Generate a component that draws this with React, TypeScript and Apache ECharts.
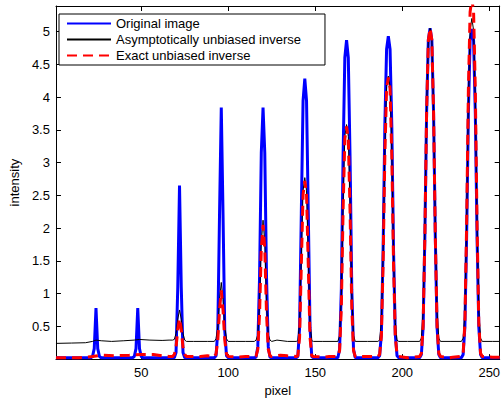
import React, { useEffect, useRef } from "react";
import * as echarts from "echarts";

const xRange = [1, 256];
const yRange = [0, 5.39];
const xTicks = [50, 100, 150, 200, 250];
const yTicks = [0.5, 1, 1.5, 2, 2.5, 3, 3.5, 4, 4.5, 5];

const seriesNames = [
  "Original image",
  "Asymptotically unbiased inverse",
  "Exact unbiased inverse",
];

// Original image: baseline points and peak windows (center, samples centered on it)
const blueBaseline: [number, number][] = [
  [1, 0.02],
  [256, 0.02],
];
const bluePeaks: [number, number[]][] = [
  [24, [0.02, 0.04, 0.16, 0.78, 0.16, 0.04, 0.02]],
  [48, [0.02, 0.04, 0.16, 0.78, 0.16, 0.04, 0.02]],
  [72, [0.02, 0.1, 1.1, 2.65, 1.1, 0.1, 0.02]],
  [96, [0.02, 0.05, 0.44, 2.22, 3.84, 2.22, 0.44, 0.05, 0.02]],
  [120, [0.02, 0.03, 0.19, 1.25, 3.15, 3.84, 3.15, 1.25, 0.19, 0.03, 0.02]],
  [144, [0.02, 0.04, 0.48, 2.23, 3.94, 4.28, 3.94, 2.23, 0.48, 0.04, 0.02]],
  [168, [0.02, 0.15, 1.06, 3.09, 4.6, 4.87, 4.6, 3.09, 1.06, 0.15, 0.02]],
  [192, [0.02, 0.05, 0.38, 1.65, 3.56, 4.73, 4.93, 4.73, 3.56, 1.65, 0.38, 0.05, 0.02]],
  [216, [0.02, 0.07, 0.49, 1.87, 3.76, 4.87, 5.05, 4.87, 3.76, 1.87, 0.49, 0.07, 0.02]],
  [240, [0.02, 0.07, 0.49, 1.87, 3.75, 4.86, 5.04, 4.86, 3.75, 1.87, 0.49, 0.07, 0.02]],
];

// Asymptotically unbiased inverse
const blackBaseline: [number, number][] = [
  [1, 0.24], [10, 0.245], [18, 0.25], [22, 0.27], [24, 0.29], [27, 0.28],
  [33, 0.27], [40, 0.28], [46, 0.29], [49, 0.3], [55, 0.29], [62, 0.285],
  [66, 0.29], [80, 0.27], [88, 0.27], [104, 0.27], [110, 0.27], [128, 0.29],
  [134, 0.27], [154, 0.27], [180, 0.27], [203, 0.27], [228, 0.27],
  [252, 0.27], [256, 0.27],
];
const blackPeaks: [number, number[]][] = [
  [72, [0.29, 0.3, 0.39, 0.61, 0.75, 0.61, 0.39, 0.29, 0.27]],
  [96, [0.27, 0.31, 0.49, 0.91, 1.17, 0.91, 0.49, 0.31, 0.27]],
  [120, [0.27, 0.29, 0.37, 0.86, 1.78, 2.12, 1.78, 0.86, 0.37, 0.29, 0.27]],
  [144, [0.27, 0.28, 0.54, 1.57, 2.57, 2.77, 2.57, 1.57, 0.54, 0.28, 0.27]],
  [168, [0.27, 0.36, 0.98, 2.37, 3.4, 3.58, 3.4, 2.37, 0.98, 0.36, 0.27]],
  [192, [0.27, 0.29, 0.56, 1.61, 3.19, 4.16, 4.32, 4.16, 3.19, 1.61, 0.56, 0.29, 0.27]],
  [216, [0.27, 0.32, 0.72, 2.03, 3.83, 4.88, 5.05, 4.88, 3.83, 2.03, 0.72, 0.32, 0.27]],
  [240, [0.27, 0.32, 0.73, 2.08, 3.94, 5.02, 5.2, 5.02, 3.94, 2.08, 0.73, 0.32, 0.27]],
];

// Exact unbiased inverse
const redBaseline: [number, number][] = [
  [1, 0.02], [14, 0.02], [22, 0.04], [27, 0.06], [35, 0.05], [43, 0.06],
  [50, 0.07], [57, 0.07], [62, 0.05], [66, 0.04], [84, 0.04], [88, 0.05],
  [106, 0.03], [110, 0.04], [130, 0.06], [134, 0.05], [155, 0.03],
  [158, 0.04], [180, 0.04], [203, 0.02], [206, 0.03], [227, 0.02],
  [229, 0.03], [252, 0.03], [256, 0.03],
];
const redPeaks: [number, number[]][] = [
  [72, [0.04, 0.07, 0.18, 0.45, 0.62, 0.45, 0.18, 0.07, 0.04]],
  [96, [0.04, 0.08, 0.29, 0.75, 1.05, 0.75, 0.29, 0.08, 0.04]],
  [120, [0.04, 0.05, 0.15, 0.69, 1.68, 2.05, 1.68, 0.69, 0.15, 0.05, 0.04]],
  [144, [0.04, 0.05, 0.33, 1.43, 2.51, 2.72, 2.51, 1.43, 0.33, 0.05, 0.04]],
  [168, [0.04, 0.13, 0.79, 2.27, 3.36, 3.55, 3.36, 2.27, 0.79, 0.13, 0.04]],
  [192, [0.04, 0.07, 0.35, 1.45, 3.11, 4.13, 4.3, 4.13, 3.11, 1.45, 0.35, 0.07, 0.04]],
  [216, [0.04, 0.09, 0.51, 1.88, 3.77, 4.87, 5.05, 4.87, 3.77, 1.88, 0.51, 0.09, 0.04]],
  [240, [0.04, 0.09, 0.55, 2.05, 4.1, 5.3, 5.5, 5.3, 4.1, 2.05, 0.55, 0.09, 0.04]],
];

function buildPoints(base: [number, number][], peaks: [number, number[]][]) {
  const windows = peaks.map(([c, vals]) => {
    const half = (vals.length - 1) / 2;
    return { lo: c - half, hi: c + half, pts: vals.map((v, i) => [c - half + i, v]) };
  });
  const kept = base.filter(([x]) => !windows.some((w) => x >= w.lo && x <= w.hi));
  const all = kept.map((p) => [p[0], p[1]]).concat(...windows.map((w) => w.pts));
  all.sort((a, b) => a[0] - b[0]);
  return all;
}

const FONT = "'Liberation Sans', Arial, Helvetica, sans-serif";

export default function App() {
  const ref = useRef<HTMLDivElement>(null);
  useEffect(() => {
    if (!ref.current) return;
    const chart = echarts.init(ref.current, undefined, { renderer: "svg" });
    const axisCommonX = {
      type: "value",
      min: xRange[0],
      max: xRange[1],
      splitLine: { show: false },
      axisLine: { show: true, onZero: false, lineStyle: { color: "#000", width: 1 } },
      axisTick: { show: true, inside: true, length: 5, lineStyle: { color: "#000" }, customValues: xTicks },
    };
    const axisCommonY = {
      type: "value",
      min: yRange[0],
      max: yRange[1],
      splitLine: { show: false },
      axisLine: { show: true, onZero: false, lineStyle: { color: "#000", width: 1 } },
      axisTick: { show: true, inside: true, length: 5, lineStyle: { color: "#000" }, customValues: yTicks },
    };
    chart.setOption({
      animation: false,
      backgroundColor: "#fff",
      textStyle: { fontFamily: FONT },
      grid: { left: 52, top: 6, width: 452, height: 356, containLabel: false },
      legend: {
        orient: "vertical",
        left: 59,
        top: 14,
        padding: [3, 24, 3, 7],
        itemGap: 3,
        itemWidth: 44,
        itemHeight: 14,
        backgroundColor: "#fff",
        borderColor: "#000",
        borderWidth: 1,
        borderRadius: 0,
        itemStyle: { opacity: 0 },
        textStyle: { fontSize: 13, color: "#000", fontFamily: FONT },
        data: seriesNames,
      },
      xAxis: [
        {
          ...axisCommonX,
          position: "bottom",
          name: "pixel",
          nameLocation: "middle",
          nameGap: 22,
          nameTextStyle: { fontSize: 13, color: "#000", fontFamily: FONT },
          axisLabel: { show: true, customValues: xTicks, color: "#000", fontSize: 13, margin: 7, fontFamily: FONT },
        },
        {
          ...axisCommonX,
          position: "top",
          axisLabel: { show: false },
        },
      ],
      yAxis: [
        {
          ...axisCommonY,
          position: "left",
          name: "intensity",
          nameLocation: "middle",
          nameGap: 30,
          nameTextStyle: { fontSize: 13, color: "#000", fontFamily: FONT },
          axisLabel: { show: true, customValues: yTicks, color: "#000", fontSize: 13, margin: 6, fontFamily: FONT },
        },
        {
          ...axisCommonY,
          position: "right",
          axisLabel: { show: false },
        },
      ],
      series: [
        {
          name: seriesNames[0],
          type: "line",
          data: buildPoints(blueBaseline, bluePeaks),
          symbol: "none",
          showSymbol: false,
          lineStyle: { color: "#0000ff", width: 3 },
          itemStyle: { color: "#0000ff" },
          clip: true,
        },
        {
          name: seriesNames[1],
          type: "line",
          data: buildPoints(blackBaseline, blackPeaks),
          symbol: "none",
          showSymbol: false,
          lineStyle: { color: "#000000", width: 1 },
          itemStyle: { color: "#000000" },
          clip: true,
        },
        {
          name: seriesNames[2],
          type: "line",
          data: buildPoints(redBaseline, redPeaks),
          symbol: "none",
          showSymbol: false,
          lineStyle: { color: "#ff0000", width: 3, type: [10, 6] },
          itemStyle: { color: "#ff0000" },
          clip: true,
        },
      ],
    });
    return () => chart.dispose();
  }, []);
  return (
    <div
      ref={ref}
      style={{ position: "absolute", left: 0, top: 0, width: 503, height: 402 }}
    />
  );
}
